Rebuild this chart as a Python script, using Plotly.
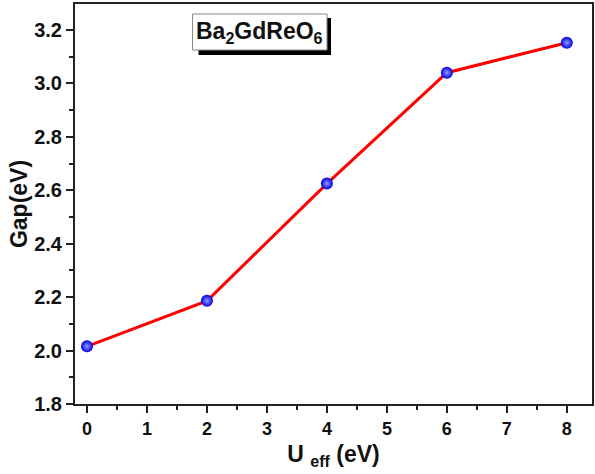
import plotly.graph_objects as go

u_eff = [0, 2, 4, 6, 8]
gap = [2.016, 2.186, 2.625, 3.040, 3.152]
x_ticks = [0, 1, 2, 3, 4, 5, 6, 7, 8]
y_ticks = [1.8, 2.0, 2.2, 2.4, 2.6, 2.8, 3.0, 3.2]

W, H = 595, 474
L, R, T, B = 75, 1, 4, 70
pw, ph = W - L - R, H - T - B

def px(x):
    return (x - L) / pw

def py(y):
    return 1 - (y - T) / ph

fig = go.Figure()
fig.add_trace(go.Scatter(
    x=u_eff, y=gap, mode="lines+markers",
    line=dict(color="#ff0000", width=3),
    marker=dict(size=12, color="#0000e0",
                gradient=dict(type="radial", color="#9098ff"),
                line=dict(width=0)),
    showlegend=False,
))

font_main = "Liberation Sans, Arial, sans-serif"
axis_common = dict(
    showline=True, linecolor="#222", linewidth=2, mirror=True,
    ticks="outside", ticklen=7, tickwidth=2, tickcolor="#222",
    showgrid=False, zeroline=False,
)

fig.update_xaxes(range=[-0.2, 8.42], tickvals=x_ticks,
                 ticktext=[f"<b>{v}</b>" for v in x_ticks],
                 tickfont=dict(family=font_main, size=18, color="#111"),
                 minor=dict(ticks="outside", ticklen=4, tickwidth=2, tickcolor="#222", dtick=0.5),
                 title=dict(text="<b>U <sub>eff</sub> (eV)</b>", standoff=8,
                            font=dict(family=font_main, size=23, color="#111")),
                 **axis_common)
fig.update_yaxes(range=[1.8, 3.297], tickvals=y_ticks,
                 ticktext=[f"<b>{v:.1f}</b>" for v in y_ticks],
                 tickfont=dict(family=font_main, size=20, color="#111"),
                 minor=dict(ticks="outside", ticklen=4, tickwidth=2, tickcolor="#222", dtick=0.1),
                 title=dict(text="<b>Gap(eV)</b>", standoff=0,
                            font=dict(family=font_main, size=23, color="#111")),
                 **axis_common)

# label box with shadow
fig.add_shape(type="rect", xref="paper", yref="paper",
              x0=px(199), x1=px(332), y0=py(55), y1=py(18),
              fillcolor="#000", line=dict(width=0), layer="above")
fig.add_shape(type="rect", xref="paper", yref="paper",
              x0=px(193), x1=px(328), y0=py(50), y1=py(14),
              fillcolor="#fff", line=dict(color="#888", width=1), layer="above")
fig.add_annotation(xref="paper", yref="paper", x=(px(193) + px(328)) / 2, y=(py(50) + py(14)) / 2,
                   text="<b>Ba<sub>2</sub>GdReO<sub>6</sub></b>", showarrow=False,
                   xanchor="center", yanchor="middle",
                   font=dict(family=font_main, size=23, color="#111"))

fig.update_layout(width=W, height=H, margin=dict(l=L, r=R, t=T, b=B),
                  paper_bgcolor="white", plot_bgcolor="white")
fig.write_html("out.html")
